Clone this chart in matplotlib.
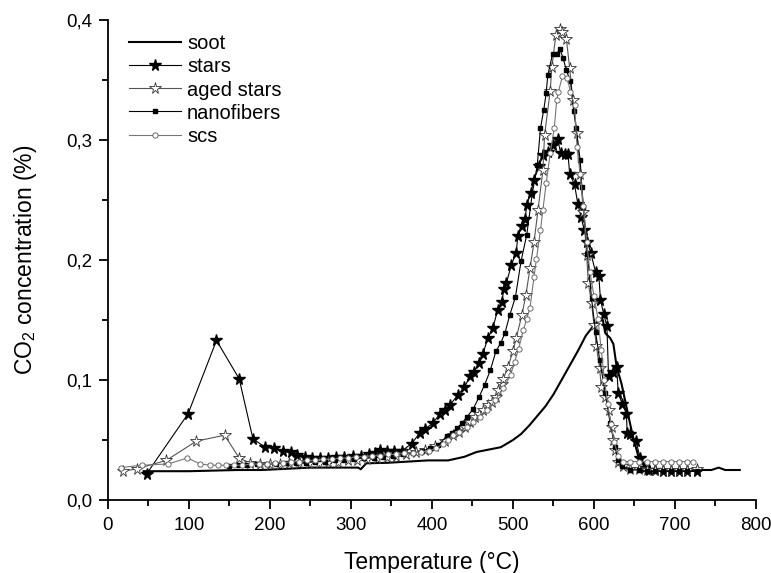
import matplotlib
matplotlib.use("Agg")
import matplotlib.pyplot as plt
from matplotlib.ticker import MultipleLocator, FuncFormatter

plt.rcParams['font.family'] = ['Liberation Sans', 'DejaVu Sans']
plt.rcParams['mathtext.default'] = 'regular'

# soot (plain line)
soot_t = [44, 70, 100, 130, 160, 190, 220, 250, 280, 309, 312, 319, 345, 370, 395, 420,
          440, 455, 470, 485, 500, 510, 520, 530, 540, 550, 560, 570, 580, 590, 598, 605,
          611, 614, 620, 624, 628, 634, 640, 648, 655, 659, 669, 690, 720, 745, 754, 762, 780]
soot_c = [0.024, 0.024, 0.024, 0.0245, 0.025, 0.025, 0.026, 0.027, 0.027, 0.027, 0.0256, 0.0306,
          0.031, 0.032, 0.033, 0.033, 0.036, 0.040, 0.042, 0.044, 0.050, 0.055, 0.062, 0.070,
          0.078, 0.088, 0.100, 0.112, 0.124, 0.137, 0.144, 0.149, 0.150, 0.139, 0.135, 0.130,
          0.111, 0.097, 0.078, 0.053, 0.036, 0.031, 0.025, 0.025, 0.025, 0.025, 0.027, 0.025, 0.025]

# stars
stars_t = [48, 99, 134, 162, 179, 194, 205, 216, 226, 234, 243, 252, 262, 272, 282,
           292, 302, 312, 322, 330, 336, 344, 353, 363, 375, 385, 391, 401, 410, 416,
           422, 432, 440, 447, 452, 458, 463, 469, 475, 481, 486, 489, 492, 498, 504,
           506, 511, 515, 517, 522, 526, 532, 537, 543, 549, 555, 559, 564, 568, 570,
           576, 580, 584, 588, 592, 596, 602, 606, 608, 612, 616, 618, 623, 628, 630,
           635, 640, 641, 645, 652, 657, 662, 668, 675, 685, 695, 705, 715, 727]
stars_c = [0.022, 0.072, 0.133, 0.101, 0.051, 0.044, 0.043, 0.041, 0.040, 0.0375, 0.036, 0.035, 0.035, 0.035, 0.036,
           0.036, 0.037, 0.037, 0.038, 0.039, 0.042, 0.041, 0.041, 0.041, 0.047, 0.056, 0.059, 0.064, 0.072, 0.075,
           0.079, 0.0875, 0.094, 0.103, 0.107, 0.114, 0.122, 0.135, 0.143, 0.158, 0.165, 0.176, 0.181, 0.196, 0.206,
           0.220, 0.228, 0.234, 0.246, 0.256, 0.267, 0.278, 0.2875, 0.290, 0.296, 0.301, 0.289, 0.288, 0.288, 0.272,
           0.263, 0.247, 0.236, 0.225, 0.215, 0.206, 0.190, 0.187, 0.167, 0.155, 0.145, 0.103, 0.107, 0.111, 0.089,
           0.080, 0.072, 0.056, 0.055, 0.049, 0.035, 0.027, 0.025, 0.025, 0.024, 0.024, 0.024, 0.024, 0.024]

# aged stars
aged_t = [19, 36, 72, 109, 144, 162, 175, 188, 200, 212, 224, 236, 248, 260, 272,
          284, 296, 308, 320, 332, 344, 356, 368, 380, 392, 404, 416, 426, 434, 441,
          447, 453, 458, 463, 469, 474, 479, 482, 486, 488, 494, 500, 504, 511, 516,
          521, 526, 531, 537, 539, 546, 548, 553, 558, 561, 566, 570, 574, 579, 583,
          587, 591, 593, 597, 600, 603, 607, 609, 614, 618, 622, 624, 626, 630, 636,
          645, 655, 665, 675, 685, 695, 705, 715, 727]
aged_c = [0.024, 0.026, 0.033, 0.049, 0.054, 0.035, 0.031, 0.030, 0.030, 0.030, 0.031, 0.031, 0.031, 0.031, 0.032,
          0.032, 0.033, 0.033, 0.034, 0.035, 0.036, 0.037, 0.038, 0.040, 0.042, 0.045, 0.049, 0.054, 0.057, 0.061,
          0.065, 0.069, 0.072, 0.075, 0.079, 0.082, 0.086, 0.092, 0.097, 0.101, 0.111, 0.124, 0.135, 0.154, 0.171,
          0.193, 0.215, 0.242, 0.275, 0.304, 0.341, 0.361, 0.3875, 0.3925, 0.390, 0.384, 0.360, 0.333, 0.306, 0.272,
          0.240, 0.204, 0.181, 0.164, 0.146, 0.128, 0.110, 0.094, 0.086, 0.075, 0.061, 0.050, 0.042, 0.032, 0.028,
          0.026, 0.026, 0.025, 0.025, 0.025, 0.025, 0.025, 0.025, 0.026]

# nanofibers
nano_t = [150, 161, 172, 184, 196, 208, 220, 232, 244, 256, 268, 280, 292, 304, 316,
          328, 340, 352, 364, 376, 388, 398, 408, 418, 425, 431, 437, 443, 451, 458,
          465, 472, 479, 485, 490, 496, 503, 510, 517, 524, 530, 534, 538, 541, 543,
          549, 554, 558, 562, 566, 571, 575, 578, 583, 585, 587, 592, 597, 602, 607,
          614, 620, 626, 630, 634, 645, 655, 665, 675, 685, 695, 705, 715, 727]
nano_c = [0.028, 0.029, 0.029, 0.030, 0.030, 0.030, 0.031, 0.031, 0.031, 0.032, 0.032, 0.033, 0.033, 0.034, 0.035,
          0.035, 0.036, 0.037, 0.038, 0.039, 0.041, 0.043, 0.046, 0.053, 0.056, 0.060, 0.064, 0.069, 0.076, 0.0856,
          0.096, 0.108, 0.124, 0.131, 0.139, 0.154, 0.169, 0.199, 0.221, 0.256, 0.279, 0.310, 0.325, 0.339, 0.354,
          0.372, 0.372, 0.376, 0.368, 0.358, 0.349, 0.324, 0.310, 0.283, 0.261, 0.244, 0.205, 0.168, 0.140, 0.117,
          0.089, 0.064, 0.044, 0.033, 0.028, 0.025, 0.025, 0.024, 0.024, 0.024, 0.024, 0.024, 0.024, 0.024]

# scs
scs_t = [16, 42, 74, 98, 114, 126, 136, 146, 156, 166, 176, 186, 196, 206, 216,
         226, 236, 246, 256, 266, 276, 286, 296, 306, 316, 326, 336, 346, 356, 366,
         376, 386, 396, 405, 414, 420, 426, 434, 443, 451, 459, 468, 478, 488, 497,
         502, 507, 513, 517, 521, 526, 529, 534, 537, 541, 546, 551, 554, 556, 561,
         567, 571, 576, 579, 583, 587, 591, 595, 600, 605, 609, 613, 617, 621, 625,
         630, 636, 645, 655, 665, 675, 685, 695, 705, 715, 722]
scs_c = [0.027, 0.029, 0.030, 0.035, 0.030, 0.029, 0.029, 0.029, 0.029, 0.029, 0.030, 0.030, 0.030, 0.031, 0.031,
         0.032, 0.032, 0.033, 0.033, 0.034, 0.034, 0.035, 0.035, 0.036, 0.036, 0.037, 0.037, 0.038, 0.038, 0.039,
         0.039, 0.040, 0.041, 0.043, 0.047, 0.050, 0.054, 0.057, 0.061, 0.065, 0.069, 0.075, 0.083, 0.093, 0.104,
         0.115, 0.126, 0.142, 0.151, 0.160, 0.186, 0.201, 0.225, 0.242, 0.264, 0.289, 0.310, 0.333, 0.340, 0.353,
         0.352, 0.340, 0.329, 0.294, 0.272, 0.245, 0.215, 0.190, 0.170, 0.151, 0.125, 0.100, 0.080, 0.063, 0.048,
         0.037, 0.032, 0.032, 0.032, 0.032, 0.032, 0.032, 0.032, 0.032, 0.032, 0.032]

fig = plt.figure(figsize=(7.71, 5.73), dpi=100)
ax = fig.add_axes([0.140, 0.1274, 0.8405, 0.8376])

ax.plot(soot_t, soot_c, color='black', lw=1.5, label='soot')
ax.plot(stars_t, stars_c, color='black', lw=0.8, marker='*', ms=8.5,
        mfc='black', mec='black', label='stars')
ax.plot(aged_t, aged_c, color='#555555', lw=0.8, marker='*', ms=8.5,
        mfc='white', mec='#333333', mew=0.6, label='aged stars')
ax.plot(nano_t, nano_c, color='black', lw=0.8, marker='s', ms=2.4,
        mfc='black', mec='black', label='nanofibers')
ax.plot(scs_t, scs_c, color='#777777', lw=0.8, marker='o', ms=3.8,
        mfc='white', mec='#555555', mew=0.6, label='scs')

ax.set_xlim(0, 800)
ax.set_ylim(0, 0.4)
ax.xaxis.set_major_locator(MultipleLocator(100))
ax.xaxis.set_minor_locator(MultipleLocator(50))
ax.yaxis.set_major_locator(MultipleLocator(0.1))
ax.yaxis.set_minor_locator(MultipleLocator(0.05))
ax.yaxis.set_major_formatter(FuncFormatter(lambda v, p: f"{v:.1f}".replace('.', ',')))

for s in ['top', 'right']:
    ax.spines[s].set_visible(False)
for s in ['left', 'bottom']:
    ax.spines[s].set_linewidth(1.3)
ax.tick_params(which='major', direction='out', length=6.5, width=1.3, labelsize=13.5)
ax.tick_params(axis='x', which='major', pad=6)
ax.tick_params(axis='y', which='major', pad=5)
ax.tick_params(which='minor', direction='out', length=4, width=1.3)

ax.set_xlabel('Temperature (°C)', fontsize=16.5, labelpad=12)
ax.set_ylabel('CO$_2$ concentration (%)', fontsize=16.5, labelpad=19)

ax.legend(loc='upper left', bbox_to_anchor=(0.032, 0.97), frameon=False,
          fontsize=14.5, handlelength=2.6, handletextpad=0.3, labelspacing=0.2,
          borderpad=0, borderaxespad=0, numpoints=1)

fig.savefig('out.png', dpi=100)
plt.close(fig)
